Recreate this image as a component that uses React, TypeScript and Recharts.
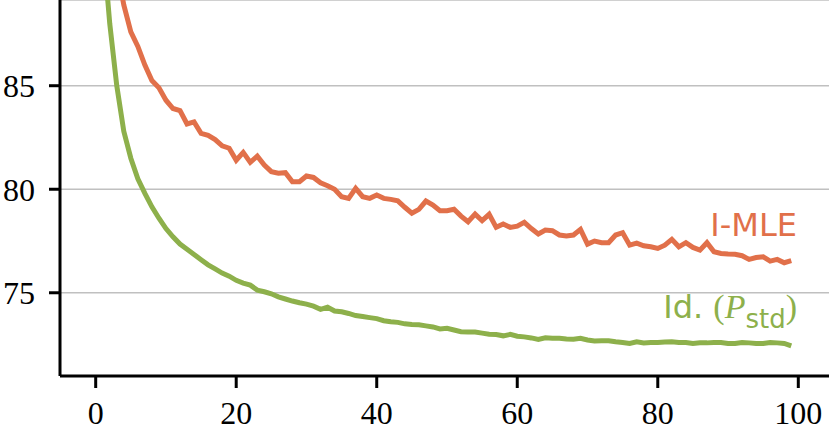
import { CartesianGrid, Customized, Line, LineChart, XAxis, YAxis } from 'recharts';

const steps = Array.from({ length: 100 }, (_, i) => i);

const imle = [
  98.0, 95.0, 92.6, 90.7, 88.9, 87.6, 86.9, 86.0, 85.25, 84.9,
  84.3, 83.9, 83.8, 83.15, 83.25, 82.7, 82.6, 82.4, 82.1, 81.98,
  81.4, 81.78, 81.3, 81.6, 81.17, 80.85, 80.77, 80.8, 80.36, 80.36,
  80.64, 80.57, 80.31, 80.17, 80.0, 79.64, 79.56, 80.04, 79.64, 79.56,
  79.72, 79.56, 79.51, 79.44, 79.13, 78.84, 79.03, 79.43, 79.24, 78.96,
  78.96, 79.03, 78.7, 78.43, 78.8, 78.48, 78.79, 78.16, 78.32, 78.16,
  78.22, 78.4, 78.1, 77.84, 78.03, 78.0, 77.79, 77.74, 77.79, 78.06,
  77.35, 77.5, 77.42, 77.42, 77.79, 77.9, 77.3, 77.4, 77.27, 77.22,
  77.14, 77.3, 77.58, 77.22, 77.42, 77.19, 77.06, 77.42, 76.98, 76.9,
  76.87, 76.86, 76.79, 76.61, 76.7, 76.74, 76.53, 76.61, 76.45, 76.55,
];

const idStd = [
  98.0, 92.0, 88.0, 85.0, 82.8, 81.5, 80.5, 79.8, 79.15, 78.6,
  78.1, 77.7, 77.35, 77.1, 76.85, 76.6, 76.35, 76.15, 75.95, 75.8,
  75.6, 75.47, 75.37, 75.13, 75.05, 74.95, 74.8, 74.7, 74.6, 74.52,
  74.45, 74.35, 74.2, 74.3, 74.12, 74.08, 74.0, 73.9, 73.85, 73.8,
  73.75, 73.65, 73.6, 73.57, 73.5, 73.47, 73.45, 73.4, 73.35, 73.25,
  73.28, 73.2, 73.12, 73.1, 73.1, 73.05, 73.0, 72.98, 72.92, 72.99,
  72.9, 72.87, 72.82, 72.75, 72.83, 72.8, 72.8, 72.77, 72.76, 72.8,
  72.72, 72.67, 72.68, 72.68, 72.63, 72.6, 72.55, 72.63, 72.58, 72.6,
  72.6, 72.62, 72.63, 72.6, 72.6, 72.55, 72.58, 72.58, 72.6, 72.6,
  72.55, 72.55, 72.6, 72.58, 72.55, 72.55, 72.6, 72.58, 72.55, 72.43,
];

const xTicks = [0, 20, 40, 60, 80, 100];
const yTicks = [75, 80, 85];

const ORANGE = '#e1704a';
const GREEN = '#8db04b';

const rows = steps.map((s, i) => ({ step: s, imle: imle[i], idStd: idStd[i] }));

const serif = "'Liberation Serif', 'Times New Roman', Times, 'DejaVu Serif', serif";
const sans = "'DejaVu Sans', sans-serif";
const tickStyle = { fill: '#000', fontSize: 32, fontFamily: serif };

function SeriesLabels() {
  return (
    <g>
      <text x={797} y={236} textAnchor="end" fill={ORANGE} fontSize={32} fontFamily={sans}>
        I-MLE
      </text>
      <text x={797} y={318} textAnchor="end" fill={GREEN} fontSize={32} fontFamily={sans}>
        <tspan>Id. </tspan>
        <tspan fontFamily={serif} fontSize={34}>(</tspan>
        <tspan fontFamily={serif} fontStyle="italic" fontSize={34}>P</tspan>
        <tspan fontSize={26} dy={10}>std</tspan>
        <tspan fontFamily={serif} fontSize={34} dy={-10}>)</tspan>
      </text>
    </g>
  );
}

export default function App() {
  return (
    <div style={{ position: 'absolute', left: 0, top: 0, background: '#fff' }}>
      <LineChart width={829} height={433} data={rows} margin={{ top: 0, right: 0, bottom: 0, left: 0 }}>
        <CartesianGrid vertical={false} stroke="#c0c0c0" strokeWidth={1.5} />
        <XAxis
          dataKey="step"
          type="number"
          domain={[-5.08, 104.37]}
          allowDataOverflow
          ticks={xTicks}
          interval={0}
          height={57}
          tickSize={12}
          tickMargin={13}
          tick={tickStyle}
          axisLine={{ stroke: '#000', strokeWidth: 3 }}
          tickLine={{ stroke: '#000', strokeWidth: 3 }}
        />
        <YAxis
          type="number"
          domain={[70.98, 89.14]}
          allowDataOverflow
          ticks={yTicks}
          interval={0}
          width={60}
          tickSize={11}
          tickMargin={14}
          tick={tickStyle}
          axisLine={{ stroke: '#000', strokeWidth: 3 }}
          tickLine={{ stroke: '#000', strokeWidth: 3 }}
        />
        <Line dataKey="idStd" stroke={GREEN} strokeWidth={5} dot={false} isAnimationActive={false} />
        <Line dataKey="imle" stroke={ORANGE} strokeWidth={5} dot={false} isAnimationActive={false} />
        <Customized component={<SeriesLabels />} />
      </LineChart>
    </div>
  );
}
